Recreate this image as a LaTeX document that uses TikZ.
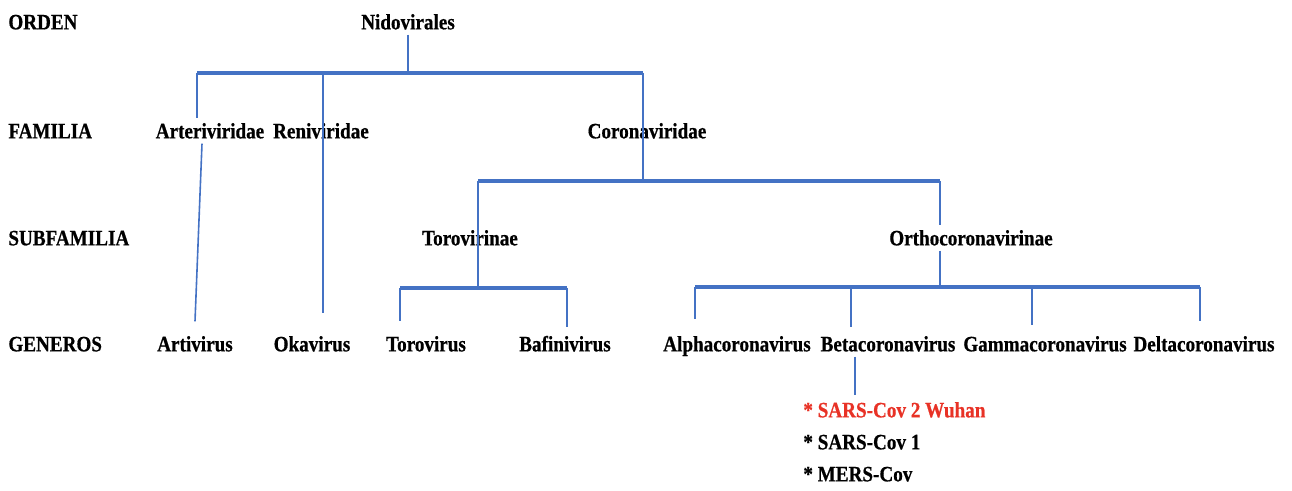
\documentclass[tikz,border=0pt]{standalone}
\usepackage{fontspec}
\setmainfont{Liberation Serif}
\newfontfamily\taxfont[FakeStretch=0.87, FakeBold=0.6]{Liberation Serif}
\usepackage{xcolor}
\definecolor{ramaazul}{RGB}{68, 114, 196}
\definecolor{rojosars}{RGB}{232, 50, 38}
\usetikzlibrary{positioning}

\begin{document}
\begin{tikzpicture}[x=0.5pt, y=-0.5pt,
  rango/.style={anchor=west, inner sep=0pt, text height=1.7ex, text depth=0.1ex, font=\taxfont\bfseries\fontsize{11}{13}\selectfont},
  taxon/.style={inner sep=2pt, text height=1.7ex, text depth=0.1ex, font=\taxfont\bfseries\fontsize{11}{13}\selectfont},
  virus/.style={anchor=west, inner sep=0pt, text height=1.7ex, text depth=0.1ex, font=\taxfont\bfseries\fontsize{11}{13}\selectfont},
  barra/.style={ramaazul, line width=1.7pt},
  rama/.style={ramaazul, line width=0.8pt}]

\useasboundingbox (0,0) rectangle (1292,491);

% rangos taxonomicos
\node[rango] (orden) at (8,22) {ORDEN};
\node[rango] (familia) at (8,131) {FAMILIA};
\node[rango] (subfam) at (8,238) {SUBFAMILIA};
\node[rango] (generos) at (8,344) {GENEROS};

% orden y familias
\node[taxon] (nido) at (408,22) {Nidovirales};
\node[taxon] (arte) at (210,131) {Arteriviridae};
\node[taxon] (reni) at (321,131) {Reniviridae};
\node[taxon] (corona) at (647,131) {Coronaviridae};

% subfamilias
\node[taxon] (toro) at (470,238) {Torovirinae};
\node[taxon] (ortho) at (971,238) {Orthocoronavirinae};

% generos
\node[taxon] (arti) at (195,344) {Artivirus};
\node[taxon] (oka) at (312,344) {Okavirus};
\node[taxon] (torov) at (426,344) {Torovirus};
\node[taxon] (bafi) at (565,344) {Bafinivirus};
\node[taxon] (alpha) at (737,344) {Alphacoronavirus};
\node[taxon] (beta) at (888,344) {Betacoronavirus};
\node[taxon] (gamma) at (1045,344) {Gammacoronavirus};
\node[taxon] (delta) at (1204,344) {Deltacoronavirus};

% especies
\node[virus, text=rojosars] (sars2) at (803,410) {* SARS-Cov 2 Wuhan};
\node[virus] (sars1) at (803,442) {* SARS-Cov 1};
\node[virus] (mers) at (803,474) {* MERS-Cov};

% ramas Nidovirales
\coordinate (n1) at (197,73);
\coordinate (n2) at (323,73);
\coordinate (n3) at (643,73);
\draw[rama] (nido) -- (nido |- n1);
\draw[barra] (n1) -- (n3);
\draw[rama] (n1) -- (n1 |- arte.north);
\draw[rama] ([xshift=-4pt]arte.south) -- ([yshift=5pt]arti.north);
\draw[rama] (n2) -- ([yshift=9pt]n2 |- oka.north);

% ramas Coronaviridae
\coordinate (c1) at (478,181);
\coordinate (c2) at (940,181);
\draw[rama] (n3) -- (n3 |- c1);
\draw[barra] (c1) -- (c2);

% ramas Torovirinae
\coordinate (t1) at (400,288);
\coordinate (t2) at (567,288);
\draw[rama] (c1) -- (c1 |- t1);
\draw[barra] (t1) -- (t2);
\draw[rama, line width=1.2pt] (t1) -- ([yshift=5pt]t1 |- torov.north);
\draw[rama] (t2) -- ([yshift=2pt]t2 |- bafi.north);

% ramas Orthocoronavirinae
\coordinate (o1) at (695,287);
\coordinate (o2) at (851,287);
\coordinate (o3) at (1032,287);
\coordinate (o4) at (1200,287);
\draw[rama] (c2) -- (c2 |- ortho.north);
\draw[rama] (ortho.south -| c2) -- (c2 |- o1);
\draw[barra] (o1) -- (o4);
\draw[rama, line width=1.2pt] (o1) -- ([yshift=6pt]o1 |- alpha.north);
\draw[rama] (o2) -- ([yshift=2pt]o2 |- beta.north);
\draw[rama] (o3) -- ([yshift=3pt]o3 |- gamma.north);
\draw[rama, line width=1.2pt] (o4) -- ([yshift=5pt]o4 |- delta.north);

% Betacoronavirus
\draw[rama, line width=1.2pt] ([xshift=2pt]beta.south -| o2) -- ([xshift=2pt, yshift=3pt]sars2.north -| o2);
\end{tikzpicture}
\end{document}
